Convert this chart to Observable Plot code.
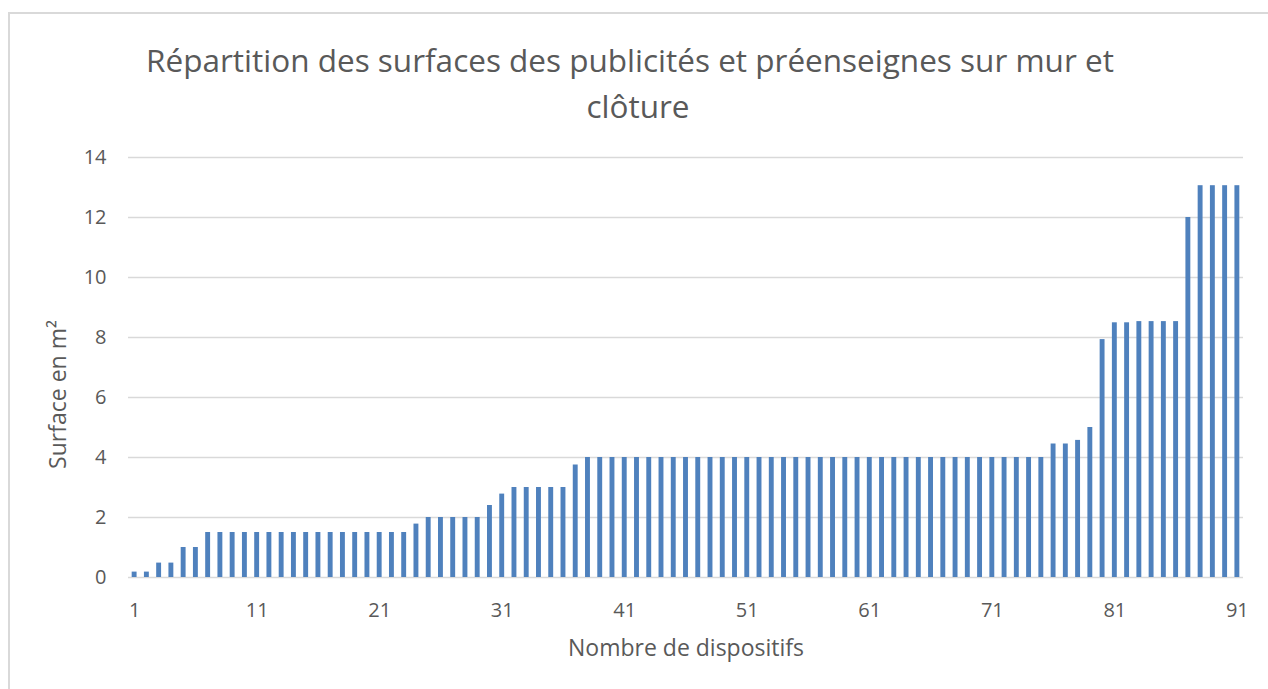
<!DOCTYPE html>
<html>
<head>
<meta charset="utf-8">
<script src="https://cdn.jsdelivr.net/npm/d3@7"></script>
<script src="https://cdn.jsdelivr.net/npm/@observablehq/plot@0.6"></script>
<style>
  body { margin: 0; background: #fff; }
  #wrap { position: relative; width: 1268px; height: 689px; overflow: hidden; font-family: "Open Sans", sans-serif; background: #fff; }
  #frame { position: absolute; left: 8px; top: 12px; right: -10px; bottom: -10px; border-left: 2px solid #d9d9d9; border-top: 2px solid #d9d9d9; }
  #chart { position: absolute; left: 0; top: 0; }
  #title { position: absolute; left: 8px; right: 0; top: 37px; text-align: center; font-size: 31.5px; line-height: 46px; color: #595959; }
  #title .l1 { padding-right: 16px; }
</style>
</head>
<body>
<div id="wrap">
  <div id="frame"></div>
  <div id="chart"></div>
  <div id="title"></div>
</div>
<script>
const titleLines = ["Répartition des surfaces des publicités et préenseignes sur mur et", "clôture"];
const xLabel = "Nombre de dispositifs";
const yLabel = "Surface en m²";
const dispositifs = d3.range(1, 92);
const surfaces = [
  0.18, 0.18, 0.48, 0.48, 1.0, 1.0, 1.5, 1.5, 1.5, 1.5,
  1.5, 1.5, 1.5, 1.5, 1.5, 1.5, 1.5, 1.5, 1.5, 1.5,
  1.5, 1.5, 1.5, 1.78, 2.0, 2.0, 2.0, 2.0, 2.0, 2.4,
  2.78, 3.0, 3.0, 3.0, 3.0, 3.0, 3.75, 4.0, 4.0, 4.0,
  4.0, 4.0, 4.0, 4.0, 4.0, 4.0, 4.0, 4.0, 4.0, 4.0,
  4.0, 4.0, 4.0, 4.0, 4.0, 4.0, 4.0, 4.0, 4.0, 4.0,
  4.0, 4.0, 4.0, 4.0, 4.0, 4.0, 4.0, 4.0, 4.0, 4.0,
  4.0, 4.0, 4.0, 4.0, 4.0, 4.45, 4.45, 4.57, 5.0, 7.93,
  8.49, 8.49, 8.53, 8.53, 8.53, 8.53, 12.0, 13.06, 13.06, 13.06,
  13.06
];
const xTicks = [1, 11, 21, 31, 41, 51, 61, 71, 81, 91];
const yTicks = [0, 2, 4, 6, 8, 10, 12, 14];

const data = dispositifs.map((n, i) => ({n, v: surfaces[i]}));

const titleEl = document.getElementById("title");
titleLines.forEach((t, i) => {
  const div = document.createElement("div");
  div.className = "l" + (i + 1);
  div.textContent = t;
  titleEl.appendChild(div);
});

const chart = Plot.plot({
  width: 1268,
  height: 689,
  marginTop: 157,
  marginBottom: 112,
  marginLeft: 128,
  marginRight: 25,
  style: { fontFamily: "Open Sans, sans-serif", fontSize: "20px", color: "#595959", background: "transparent", overflow: "visible" },
  x: { type: "band", domain: dispositifs, paddingInner: 0.6, paddingOuter: 0.3, round: false },
  y: { domain: [0, 14] },
  marks: [
    Plot.ruleY(yTicks, { stroke: "#d9d9d9", strokeWidth: 1.5 }),
    Plot.barY(data, { x: "n", y: "v", fill: "#4f81bd" }),
    Plot.axisX({ ticks: xTicks, tickSize: 0, tickPadding: 25, label: null, fill: "#595959", fontSize: 20 }),
    Plot.axisY({ ticks: yTicks, tickSize: 0, tickPadding: 22, label: null, fill: "#595959", fontSize: 20 }),
    Plot.text([xLabel], { text: d => d, frameAnchor: "bottom", dy: 78, fontSize: 23, fill: "#595959" }),
    Plot.text([yLabel], { text: d => d, frameAnchor: "left", textAnchor: "middle", rotate: -90, dx: -70, dy: 27, fontSize: 23, fill: "#595959" })
  ]
});
document.getElementById("chart").appendChild(chart);
</script>
</body>
</html>
